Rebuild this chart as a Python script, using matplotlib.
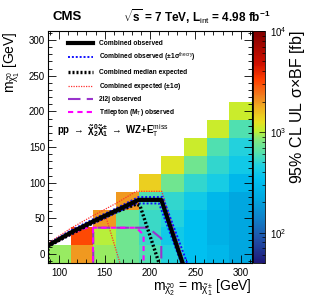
import numpy as np
import matplotlib
matplotlib.use('Agg')
import matplotlib.pyplot as plt
from matplotlib.colors import LinearSegmentedColormap, LogNorm

plt.rcParams['font.family'] = 'Liberation Sans'
plt.rcParams['mathtext.fontset'] = 'custom'
plt.rcParams['mathtext.rm'] = 'Liberation Sans'
plt.rcParams['mathtext.it'] = 'Liberation Sans'
plt.rcParams['mathtext.bf'] = 'Liberation Sans:bold'
plt.rcParams['mathtext.default'] = 'regular'

# Data: 95% CL upper limit on sigma x BF [fb], one list per chargino/neutralino2 mass
mass_x = [100, 125, 150, 175, 200, 225, 250, 275, 300]
mass_y = [0, 25, 50, 75, 100, 125, 150, 175, 200, 225, 250, 275, 300]
col100 = [900]
col125 = [1950, 3100]
col150 = [900, 1000, 1950]
col175 = [740, 740, 700, 1950]
col200 = [600, 540, 540, 600, 1400]
col225 = [470, 400, 470, 510, 740, 1200]
col250 = [340, 340, 340, 400, 510, 740, 1080]
col275 = [290, 260, 260, 290, 430, 510, 600, 1080]
col300 = [220, 220, 220, 220, 290, 400, 470, 600, 1080]

# Contours
obs_x = [87.5, 112.5, 137.5, 162.5, 187.5, 212.5, 236]
obs_y = [12, 30, 46, 61, 76, 76, -12.5]
obs_up_x = [87.5, 112.5, 137.5, 162.5, 187.5, 214, 241]
obs_up_y = [14, 33, 49, 64, 80, 80, -12.5]
obs_dn_x = [87.5, 112.5, 137.5, 162.5, 185, 210, 234.5]
obs_dn_y = [10, 27, 43, 58, 71, 71, -12.5]
exp_x = [87.5, 87.5, 112.5, 137.5, 162.5, 185, 189, 210]
exp_y = [-12.5, 11, 28, 44, 59, 70, 68, -12.5]
exp_up_x = [87.5, 112.5, 137.5, 162.5, 185, 213, 238]
exp_up_y = [15, 36, 54, 71, 88, 88, -12.5]
exp_dn_x = [87.5, 112.5, 137.5, 152, 167]
exp_dn_y = [10, 27, 43, 50, -12.5]
ll2j_x = [137.5, 137.5, 141, 198, 212.5, 212.5]
ll2j_y = [-12.5, 30, 37, 37, 22, -12.5]
trilep_x = [87.5, 87.5, 112.5, 130, 185, 193, 193]
trilep_y = [-12.5, 12, 29, 37, 37, 27, -12.5]
trilep2_x = [137.5, 137.5]
trilep2_y = [37, -12.5]

# grid
cols = [col100, col125, col150, col175, col200, col225, col250, col275, col300]
z = np.full((len(mass_y), len(mass_x)), np.nan)
for i, c in enumerate(cols):
    z[:len(c), i] = c
z = np.ma.masked_invalid(z)
xe = np.append(np.array(mass_x) - 12.5, mass_x[-1] + 12.5)
ye = np.append(np.array(mass_y) - 12.5, mass_y[-1] + 12.5)

root_cmap = LinearSegmentedColormap.from_list('root', [
    (0.00, '#1e1878'), (0.10, '#2050a8'), (0.19, '#1080c8'), (0.28, '#00a8e0'),
    (0.36, '#00c0f0'), (0.42, '#20d0e0'), (0.47, '#50e0b0'), (0.53, '#80e880'),
    (0.57, '#c0f030'), (0.61, '#e8e020'), (0.67, '#f0b020'), (0.72, '#f08020'),
    (0.79, '#ff4000'), (0.86, '#d01000'), (1.00, '#800000')])

fig = plt.figure(figsize=(3.15, 3.02), dpi=100)
ax = fig.add_axes([0.152, 0.129, 0.648, 0.768])
pc = ax.pcolormesh(xe, ye, z, cmap=root_cmap, norm=LogNorm(50, 1e4))

ax.plot(exp_up_x, exp_up_y, color='#ff3030', lw=0.9, ls=(0, (1, 1)))
ax.plot(exp_dn_x, exp_dn_y, color='#ff3030', lw=0.9, ls=(0, (1, 1)))
ax.plot(obs_up_x, obs_up_y, color='#1010ff', lw=1.4, ls=(0, (1, 1)))
ax.plot(obs_dn_x, obs_dn_y, color='#1010ff', lw=1.4, ls=(0, (1, 1)))
ax.plot(ll2j_x, ll2j_y, color='#9933cc', lw=1.5, ls=(0, (6, 3)))
ax.plot(trilep_x, trilep_y, color='#ff00ff', lw=1.5, ls=(0, (2.5, 2)))
ax.plot(trilep2_x, trilep2_y, color='#ff00ff', lw=1.5, ls=(0, (2.5, 2)))
ax.plot(exp_x, exp_y, color='black', lw=2.4, ls=(0, (0.6, 0.6)))
ax.plot(obs_x, obs_y, color='black', lw=3)

ax.set_xlim(87.5, 312.5)
ax.set_ylim(-12.5, 312.5)
ax.set_xticks([100, 150, 200, 250, 300])
ax.set_yticks([0, 50, 100, 150, 200, 250, 300])
ax.set_xticks(np.arange(90, 313, 10), minor=True)
ax.set_yticks(np.arange(-10, 313, 10), minor=True)
ax.tick_params(which='both', direction='in', top=True, right=True, labelsize=7, width=0.6)
ax.tick_params(which='major', length=6)
ax.tick_params(which='minor', length=3)
ax.tick_params(axis='y', pad=2)
for s in ax.spines.values():
    s.set_linewidth(0.8)

ax.set_xlabel(r'$m_{\tilde{\chi}^{0}_{2}}$ = $m_{\tilde{\chi}^{\pm}_{1}}$ [GeV]', fontsize=10, loc='right')
ax.xaxis.set_label_coords(1.0, -0.065)
ax.set_ylabel(r'$m_{\tilde{\chi}^{0}_{1}}$ [GeV]', fontsize=10, loc='top')
ax.yaxis.set_label_coords(-0.125, 1.0)

# legend drawn inside the frame
entries = [
    ('Combined observed', dict(color='black', lw=3)),
    (r'Combined observed ($\pm$1$\sigma^{\rm theory}$)', dict(color='#1010ff', lw=1.4, ls=(0, (1, 1)))),
    ('Combined median expected', dict(color='black', lw=2.4, ls=(0, (0.6, 0.6)))),
    (r'Combined expected ($\pm$1$\sigma$)', dict(color='#ff3030', lw=0.9, ls=(0, (1, 1)))),
    ('2l2j observed', dict(color='#9933cc', lw=1.5, ls=(0, (6, 3)))),
    (r'Trilepton (M$_{\rm T}$) observed', dict(color='#ff00ff', lw=1.5, ls=(0, (2.5, 2)))),
]
rows = [0.948, 0.888, 0.823, 0.763, 0.707, 0.651]
for (lab, kw), yy in zip(entries, rows):
    ax.plot([0.098, 0.22], [yy, yy], transform=ax.transAxes, clip_on=False, **kw)
    ax.text(0.25, yy, lab, transform=ax.transAxes, fontsize=4.8, fontweight='bold', va='center')
ax.text(0.044, 0.573, r'pp $\rightarrow$ $\tilde{\chi}^{0}_{2}\tilde{\chi}^{\pm}_{1}$ $\rightarrow$ WZ+E$_{\rm T}^{\rm miss}$',
        transform=ax.transAxes, fontsize=7, fontweight='bold', va='center')

fig.text(0.168, 0.944, 'CMS', fontsize=9.5, fontweight='bold', va='center')
fig.text(0.39, 0.944, r'$\sqrt{s}$ = 7 TeV, L$_{\rm int}$ = 4.98 fb$^{-1}$', fontsize=8.5,
         fontweight='bold', va='center')

cax = fig.add_axes([0.803, 0.129, 0.038, 0.768])
cb = fig.colorbar(pc, cax=cax)
cb.outline.set_linewidth(0.6)
cax.tick_params(which='both', direction='in', labelsize=7, width=0.5)
cax.tick_params(which='major', length=4)
cax.tick_params(which='minor', length=2)
fig.text(0.945, 0.9, r'95% CL UL $\sigma$$\times$BF [fb]', rotation=90, fontsize=11.5,
         ha='center', va='top')

fig.savefig('out.png', dpi=100)
